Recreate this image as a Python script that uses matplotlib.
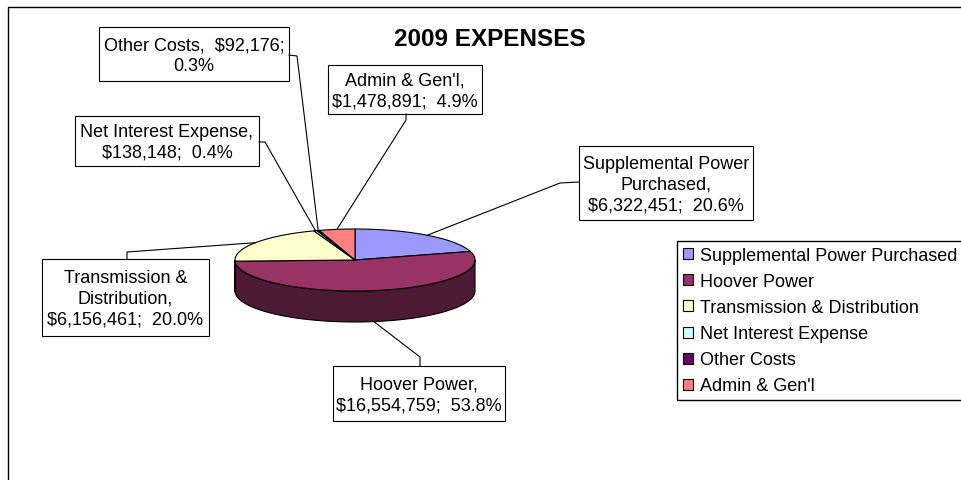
import numpy as np
import matplotlib
matplotlib.use('Agg')
import matplotlib.pyplot as plt
from matplotlib.patches import Polygon, Rectangle, Patch
from matplotlib.colors import to_rgb

# 2009 expenses
categories = ['Supplemental Power Purchased', 'Hoover Power', 'Transmission & Distribution',
              'Net Interest Expense', 'Other Costs', "Admin & Gen'l"]
amounts = [6322451, 16554759, 6156461, 138148, 92176, 1478891]
percents = [20.6, 53.8, 20.0, 0.4, 0.3, 4.9]
label_names = ['Supplemental Power\nPurchased,', 'Hoover Power,', 'Transmission &\nDistribution,',
               'Net Interest Expense,', 'Other Costs, ', "Admin & Gen'l,"]
one_line_amount = [False, False, False, False, True, False]
colors = ['#9999FF', '#993366', '#FFFFCC', '#CCFFFF', '#660066', '#FF8080']

# layout (pixels, y down)
cx, cy, rx, ry, depth = 355, 261, 120, 31, 31
boxes = [(579, 147, 753, 221), (333, 367, 505, 422), (42, 260, 209, 337),
         (75, 117, 259, 167), (99, 28, 289, 82), (328, 66, 482, 115)]
elbows = [(560, 184), (420, 358), (127, 253), (265, 143), (297, 57), (406, 121)]
anchors = [(579, 183), (420, 367), (127, 260), (259, 143), (289, 56), (406, 115)]

W, H = 961, 481
fig = plt.figure(figsize=(W / 100, H / 100), dpi=100)
ax = fig.add_axes([0, 0, 1, 1])
ax.set_xlim(0, W)
ax.set_ylim(H, 0)
ax.axis('off')
plt.rcParams['font.family'] = ['Liberation Sans', 'DejaVu Sans']

# chart border (right and bottom edges fall outside the picture)
ax.add_patch(Rectangle((8, 8), W + 100, H + 100, fill=False, ec='black', lw=1))

fracs = np.array(amounts, dtype=float) / sum(amounts)
edges = 90 - 360 * np.concatenate([[0], np.cumsum(fracs)])

def pt(theta, dz=0):
    t = np.radians(theta)
    return cx + rx * np.cos(t), cy - ry * np.sin(t) + dz

# side walls (front half only)
for i, c in enumerate(colors):
    a0, a1 = edges[i + 1], edges[i]
    lo, hi = max(a0, -180), min(a1, 0)
    if hi <= lo:
        continue
    th = np.linspace(lo, hi, 120)
    tx, ty = pt(th)
    bx, by = pt(th[::-1], depth)
    side = [v * 0.5 for v in to_rgb(c)]
    ax.add_patch(Polygon(np.column_stack([np.r_[tx, bx], np.r_[ty, by]]),
                         closed=True, fc=side, ec='black', lw=0.8))

# top faces
for i, c in enumerate(colors):
    th = np.linspace(edges[i], edges[i + 1], 150)
    tx, ty = pt(th)
    ax.add_patch(Polygon(np.column_stack([np.r_[cx, tx], np.r_[cy, ty]]),
                         closed=True, fc=c, ec='black', lw=0.8))

# data labels with leader lines
for i in range(len(categories)):
    mid = (edges[i] + edges[i + 1]) / 2
    dz = depth if np.sin(np.radians(mid)) < 0 else 0
    sx, sy = pt(mid, dz)
    ex, ey = elbows[i]
    axx, ayy = anchors[i]
    ax.plot([sx, ex, axx], [sy, ey, ayy], color='black', lw=0.8)
    x0, y0, x1, y1 = boxes[i]
    ax.add_patch(Rectangle((x0, y0), x1 - x0, y1 - y0, fc='white', ec='black', lw=0.8))
    if one_line_amount[i]:
        txt = '%s $%s;\n%.1f%%' % (label_names[i], format(amounts[i], ','), percents[i])
    else:
        txt = '%s\n$%s;  %.1f%%' % (label_names[i], format(amounts[i], ','), percents[i])
    ax.text((x0 + x1) / 2, (y0 + y1) / 2 + 1, txt, ha='center', va='center',
            multialignment='center', fontsize=13, linespacing=1.3)

ax.text(490, 39, '2009 EXPENSES', ha='center', va='center', fontsize=17.5, fontweight='bold')

# legend, its frame runs past the right edge like the original
ax.add_patch(Rectangle((677, 242), 350, 159, fc='white', ec='black', lw=1.0))
handles = [Patch(fc=c, ec='black', lw=0.8) for c in colors]
leg = ax.legend(handles, categories, loc='upper left',
                bbox_to_anchor=(677 / W, 1 - 242 / H), bbox_transform=fig.transFigure,
                fontsize=13, frameon=False,
                handlelength=0.56, handleheight=0.56, handletextpad=0.39,
                labelspacing=0.5, borderpad=0.35, borderaxespad=0)

fig.savefig('out.png', dpi=100)
